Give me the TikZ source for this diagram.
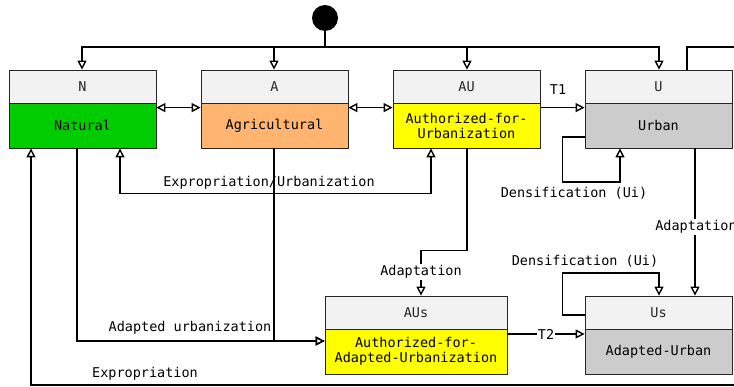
\documentclass[tikz,border=0pt]{standalone}
\usepackage{fontspec}
\setmonofont{DejaVu Sans Mono}
\usetikzlibrary{arrows.meta}
\definecolor{hdr}{HTML}{F2F2F2}
\definecolor{natgreen}{HTML}{00CC00}
\definecolor{agri}{HTML}{FFB570}
\definecolor{yel}{HTML}{FFFF00}
\definecolor{urb}{HTML}{CCCCCC}
\tikzset{
  every node/.style={font=\ttfamily\fontsize{13.5}{15}\selectfont},
  hbox/.style={draw=black!85, line width=0.8pt, fill=hdr, minimum width=147pt, minimum height=33pt, inner sep=0pt, text=black!85},
  bbox/.style={draw=black!85, line width=0.8pt, minimum width=147pt, minimum height=45pt, inner sep=0pt, align=center},
  tip/.tip={Triangle[open,length=9pt,width=9pt,line width=1.4pt]},
  conn/.style={line width=1.5pt, -tip},
  conn2/.style={line width=1.5pt, tip-tip},
  plain/.style={line width=1.5pt},
  lbl/.style={fill=white, inner sep=1pt},
}
\begin{document}
\begin{tikzpicture}[x=1pt,y=-1pt]
\useasboundingbox (0,0) rectangle (734,387);
% initial state
\node[circle, fill=black, minimum size=26pt, inner sep=0pt] (start) at (325,18) {};
% states
\node[hbox] (Nh) at (82.5,86.5) {N};
\node[bbox, fill=natgreen] (Nb) at (82.5,125.5) {Natural};
\node[hbox] (Ah) at (274.5,86.5) {A};
\node[bbox, fill=agri] (Ab) at (274.5,125.5) {Agricultural};
\node[hbox] (AUh) at (466.5,86.5) {AU};
\node[bbox, fill=yel] (AUb) at (466.5,125.5) {Authorized-for-\\Urbanization};
\node[hbox] (Uh) at (658.5,86.5) {U};
\node[bbox, fill=urb] (Ub) at (658.5,125.5) {Urban};
\node[hbox, minimum width=182pt] (AUsh) at (416,312.5) {AUs};
\node[bbox, minimum width=182pt, fill=yel] (AUsb) at (416,351.5) {Authorized-for-\\Adapted-Urbanization};
\node[hbox] (Ush) at (658.5,312.5) {Us};
\node[bbox, fill=urb] (Usb) at (658.5,351.5) {Adapted-Urban};
% initial transitions
\coordinate (bus) at (325,47);
\draw[plain] (start.south) -- (bus);
\draw[conn] (bus) -| ([xshift=-0.5pt]Nh.north);
\draw[conn] (bus) -| ([xshift=-0.5pt]Ah.north);
\draw[conn] (bus) -| ([xshift=0.5pt]AUh.north);
\draw[conn] (bus) -| ([xshift=0.5pt]Uh.north);
% horizontal transitions
\draw[conn2] ([yshift=-5pt]Nb.north east) -- ([yshift=-5pt]Ab.north west);
\draw[conn2] ([yshift=-5pt]Ab.north east) -- ([yshift=-5pt]AUb.north west);
\draw[conn] ([yshift=-5pt]AUb.north east) -- ([yshift=-5pt]Ub.north west);
\node (t1) at (558,90) {T1};
% N <-> AU
\draw[conn2] ([xshift=37.5pt]Nb.south) -- ++(0,45) -| ([xshift=-35.5pt]AUb.south);
\node (lexu) at (269,183) {Expropriation/Urbanization};
% N, A -> AUs
\coordinate (ausin) at ([yshift=10.5pt]AUsb.west);
\draw[conn] ([xshift=-5.5pt]Nb.south) |- (ausin);
\draw[conn] ([xshift=-0.5pt]Ab.south) |- (ausin);
\node (ladu) at (190,328) {Adapted urbanization};
% AU -> AUs
\draw[conn] ([xshift=0.5pt]AUb.south) -- ++(0,102) -| ([xshift=5pt]AUsh.north);
\node[lbl] (lad1) at (421,272) {Adaptation};
% U densification
\draw[conn] ([yshift=-11.5pt]Ub.west) -| ++(-22,45) -| ([xshift=-38.5pt]Ub.south);
\node (lden1) at (574,193) {Densification (Ui)};
% U -> Us
\draw[conn] ([xshift=36.5pt]Ub.south) -- ([xshift=36.5pt]Ush.north);
\node[lbl] (lad2) at (696,227) {Adaptation};
% Us densification
\draw[conn] ([yshift=-2.5pt]Ush.west) -| ++(-22,-42) -| ([xshift=0.5pt]Ush.north);
\node (lden2) at (585,261) {Densification (Ui)};
% AUs -> Us
\draw[conn] ([yshift=17.5pt]AUsb.east) -- node[lbl] (t2) {T2} ([yshift=17.5pt]Usb.west);
% U -> N expropriation
\coordinate (er1) at (770,47);
\coordinate (er2) at (770,385);
\draw[conn] ([xshift=28.5pt]Uh.north) |- (er1) -- (er2) -| ([xshift=-51.5pt]Nb.south);
\node (lexp) at (145,374) {Expropriation};
\end{tikzpicture}
\end{document}
